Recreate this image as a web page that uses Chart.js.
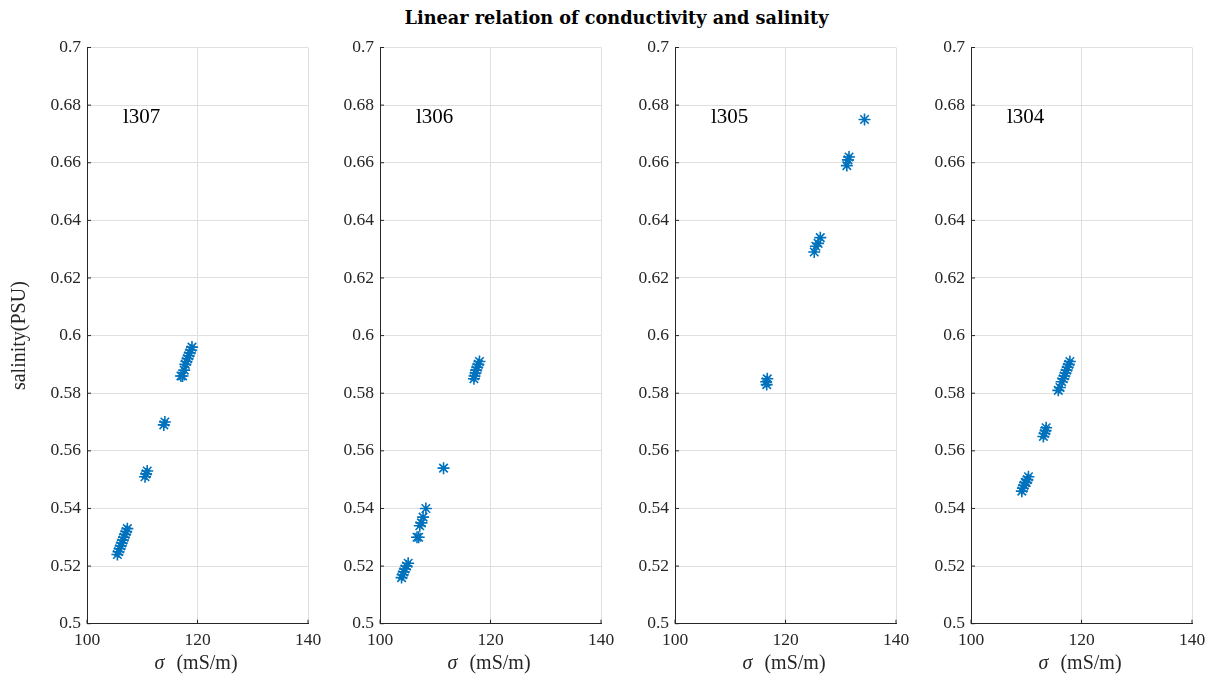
<!DOCTYPE html>
<html>
<head>
<meta charset="utf-8">
<script src="https://cdn.jsdelivr.net/npm/chart.js@4.4.1/dist/chart.umd.min.js"></script>
<style>
  html, body { margin:0; padding:0; background:#fff; }
  body { width:1215px; height:678px; overflow:hidden; position:relative; }
  canvas { position:absolute; top:0; }
  #title { position:absolute; top:8px; left:9px; width:1215px; text-align:center;
           font-family:'DejaVu Serif', serif; font-weight:bold; font-size:17.7px; line-height:20px; color:#000; white-space:nowrap; }
</style>
</head>
<body>
<div id="title">Linear relation of conductivity and salinity</div>
<script>
// ---------------- data ----------------
const panelNames = ['l307', 'l306', 'l305', 'l304'];

const l307Sigma    = [105.5, 105.7, 105.9, 106.1, 106.3, 106.5, 106.7, 106.9, 107.1, 107.3, 110.5, 110.7, 110.9, 113.9, 114.1, 117.0, 117.3, 117.6, 117.8, 118.0, 118.2, 118.4, 118.6, 118.8, 119.0];
const l307Salinity = [0.524, 0.525, 0.526, 0.527, 0.528, 0.529, 0.530, 0.531, 0.532, 0.533, 0.551, 0.552, 0.553, 0.569, 0.570, 0.586, 0.586, 0.588, 0.590, 0.591, 0.592, 0.593, 0.594, 0.595, 0.596];

const l306Sigma    = [103.9, 104.1, 104.3, 104.5, 104.8, 105.1, 106.7, 107.0, 107.2, 107.5, 107.8, 108.3, 111.5, 117.0, 117.1, 117.3, 117.4, 117.6, 117.8, 118.0];
const l306Salinity = [0.516, 0.517, 0.518, 0.519, 0.520, 0.521, 0.530, 0.530, 0.534, 0.535, 0.537, 0.540, 0.554, 0.585, 0.586, 0.587, 0.588, 0.589, 0.590, 0.591];

const l305Sigma    = [116.5, 116.6, 116.7, 125.2, 125.5, 125.9, 126.3, 131.1, 131.3, 131.5, 134.3];
const l305Salinity = [0.584, 0.583, 0.585, 0.629, 0.631, 0.632, 0.634, 0.659, 0.661, 0.662, 0.675];

const l304Sigma    = [109.2, 109.4, 109.6, 109.8, 110.0, 110.2, 110.4, 113.1, 113.3, 113.5, 113.6, 115.8, 116.1, 116.4, 116.7, 116.9, 117.1, 117.3, 117.5, 117.7, 117.9];
const l304Salinity = [0.546, 0.547, 0.548, 0.549, 0.549, 0.550, 0.551, 0.565, 0.566, 0.567, 0.568, 0.581, 0.582, 0.584, 0.585, 0.586, 0.587, 0.588, 0.589, 0.590, 0.591];

const xTickValues = [100, 120, 140];
const yTickValues = [0.5, 0.52, 0.54, 0.56, 0.58, 0.6, 0.62, 0.64, 0.66, 0.68, 0.7];
const xLabelText  = ['σ', '(mS/m)'];
const yLabelText  = 'salinity(PSU)';

// ---------------- layout / style ----------------
const sigmaSets    = [l307Sigma, l306Sigma, l305Sigma, l304Sigma];
const salinitySets = [l307Salinity, l306Salinity, l305Salinity, l304Salinity];
const PLOT_LEFTS = [86.7, 380.3, 675.0, 970.7];
const PLOT_W = 221;
const PLOT_TOP = 47.5;
const PLOT_BOTTOM = 623.7;
const Y_AXIS_W = 86;
const RIGHT_PAD = 20;
const H = 678;
const AXIS_COLOR = '#262626';
const GRID_COLOR = '#dfdfdf';
const MARK_COLOR = '#0072BD';
const FONT = "'Liberation Serif', serif";

const decor = {
  id: 'decor',
  afterDraw(chart, args, opts) {
    const { ctx, chartArea: a, scales: { x, y } } = chart;
    ctx.save();
    // inward tick marks
    ctx.strokeStyle = AXIS_COLOR;
    ctx.lineWidth = 1;
    ctx.beginPath();
    for (const v of xTickValues) {
      const px = x.getPixelForValue(v);
      ctx.moveTo(px, a.bottom); ctx.lineTo(px, a.bottom - 4);
    }
    for (const v of yTickValues) {
      const py = y.getPixelForValue(v);
      ctx.moveTo(a.left, py); ctx.lineTo(a.left + 4, py);
    }
    ctx.stroke();
    // panel label
    ctx.fillStyle = '#000';
    ctx.font = '21px ' + FONT;
    ctx.textAlign = 'left';
    ctx.textBaseline = 'middle';
    ctx.fillText(opts.label, x.getPixelForValue(106.5), y.getPixelForValue(0.6758));
    // x axis label
    const cx = (a.left + a.right) / 2;
    ctx.fillStyle = AXIS_COLOR;
    ctx.font = 'italic 20px ' + FONT;
    ctx.textAlign = 'left';
    ctx.fillText(xLabelText[0], cx - 43, 664);
    ctx.font = '20px ' + FONT;
    ctx.textAlign = 'center';
    ctx.fillText(xLabelText[1], cx + 9.5, 664);
    // y axis label (first panel only)
    if (opts.showYLabel) {
      ctx.translate(19 - opts.canvasLeft, (a.top + a.bottom) / 2);
      ctx.rotate(-Math.PI / 2);
      ctx.font = '20px ' + FONT;
      ctx.textAlign = 'center';
      ctx.textBaseline = 'middle';
      ctx.fillText(yLabelText, 0, 0);
    }
    ctx.restore();
  }
};

Chart.defaults.font.family = FONT;

panelNames.forEach((name, i) => {
  const canvasLeft = PLOT_LEFTS[i] - Y_AXIS_W;
  const cv = document.createElement('canvas');
  const w = Y_AXIS_W + PLOT_W + RIGHT_PAD;
  cv.width = w; cv.height = H;
  cv.style.width = w + 'px'; cv.style.height = H + 'px';
  cv.style.left = canvasLeft + 'px';
  document.body.appendChild(cv);

  const pts = sigmaSets[i].map((s, k) => ({ x: s, y: salinitySets[i][k] }));

  new Chart(cv, {
    type: 'scatter',
    data: {
      datasets: [{
        data: pts,
        pointStyle: 'star',
        pointRadius: 6,
        pointHoverRadius: 6,
        borderColor: MARK_COLOR,
        backgroundColor: MARK_COLOR,
        pointBorderWidth: 1.6
      }]
    },
    options: {
      responsive: false,
      animation: false,
      devicePixelRatio: 1,
      events: [],
      layout: { padding: { top: PLOT_TOP, right: RIGHT_PAD, left: 0, bottom: 0 } },
      plugins: {
        legend: { display: false },
        tooltip: { enabled: false },
        decor: { label: name, showYLabel: i === 0, canvasLeft: canvasLeft }
      },
      scales: {
        x: {
          type: 'linear', min: xTickValues[0], max: xTickValues[xTickValues.length - 1],
          afterBuildTicks: s => { s.ticks = xTickValues.map(v => ({ value: v })); },
          afterFit: s => { s.height = H - PLOT_BOTTOM; },
          grid: { color: GRID_COLOR, drawTicks: false, lineWidth: 1 },
          border: { color: AXIS_COLOR, width: 1 },
          ticks: { color: AXIS_COLOR, font: { size: 17.5 }, padding: 6, maxRotation: 0, autoSkip: false,
                   callback: v => String(v) }
        },
        y: {
          type: 'linear', min: yTickValues[0], max: yTickValues[yTickValues.length - 1],
          afterBuildTicks: s => { s.ticks = yTickValues.map(v => ({ value: v })); },
          afterFit: s => { s.width = Y_AXIS_W; },
          grid: { color: GRID_COLOR, drawTicks: false, lineWidth: 1 },
          border: { color: AXIS_COLOR, width: 1 },
          ticks: { color: AXIS_COLOR, font: { size: 17.5 }, padding: 6, autoSkip: false,
                   callback: v => String(+Number(v).toFixed(2)) }
        }
      }
    },
    plugins: [decor]
  });
});
</script>
</body>
</html>
